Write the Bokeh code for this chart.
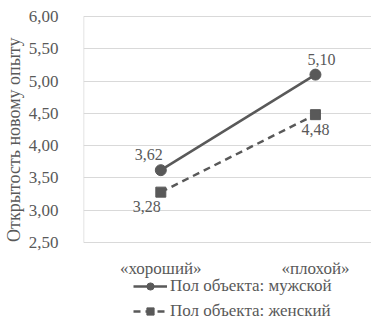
from bokeh.plotting import figure
from bokeh.models import FixedTicker, Legend, LegendItem, ColumnDataSource, LabelSet, Range1d, CustomJSTickFormatter
from bokeh.embed import file_html
from bokeh.resources import INLINE

categories = ["«хороший»", "«плохой»"]
male = [3.62, 5.10]
female = [3.28, 4.48]
male_labels = ["3,62", "5,10"]
female_labels = ["3,28", "4,48"]
y_ticks = [2.5, 3.0, 3.5, 4.0, 4.5, 5.0, 5.5, 6.0]
series_names = ["Пол объекта: мужской", "Пол объекта: женский"]
y_title = "Открытость новому опыту"

FONT = "serif"
GREY = "#595959"
TXT = "#595959"
GRID = "#d9d9d9"

xs = list(range(len(categories)))

# layout plan (pixels): plot area spans y 16..242, legend/labels below inside the frame
W, H = 371, 319
TOP, AXIS_BOTTOM = 16, 242
k = (AXIS_BOTTOM - TOP) / (y_ticks[-1] - y_ticks[0])
y_lo = y_ticks[0] - (H - AXIS_BOTTOM) / k
y_hi = y_ticks[-1] + TOP / k
x_lo, x_hi = -0.5, 1.3625

p = figure(width=W, height=H, output_backend="svg", toolbar_location=None,
           x_range=Range1d(x_lo, x_hi), y_range=Range1d(y_lo, y_hi),
           min_border_left=73, min_border_right=0, min_border_top=0, min_border_bottom=0)
p.outline_line_color = None
p.background_fill_color = "white"
p.xaxis.visible = False

p.yaxis.ticker = FixedTicker(ticks=y_ticks)
p.yaxis.formatter = CustomJSTickFormatter(code="return tick.toFixed(2).replace('.', ',');")
p.yaxis.axis_line_color = None
p.yaxis.major_tick_line_color = None
p.yaxis.minor_tick_line_color = None
p.yaxis.major_label_standoff = 19
p.yaxis.major_label_text_font = FONT
p.yaxis.major_label_text_font_size = "17px"
p.yaxis.major_label_text_color = TXT
p.yaxis.axis_label = "\u00a0" * 9 + y_title
p.yaxis.axis_label_text_font = FONT
p.yaxis.axis_label_text_font_style = "normal"
p.yaxis.axis_label_text_font_size = "18px"
p.yaxis.axis_label_text_color = TXT
p.yaxis.axis_label_standoff = 2

p.xgrid.grid_line_color = None
p.ygrid.ticker = FixedTicker(ticks=y_ticks)
p.ygrid.grid_line_color = GRID
p.ygrid.grid_line_width = 1

# vertical axis line spanning the value axis only
p.segment(x0=[x_lo], y0=[y_ticks[0]], x1=[x_lo], y1=[y_ticks[-1]], line_color=GRID, line_width=1.5)

# category labels under the value axis
p.add_layout(LabelSet(x="x", y="y", text="t",
                      source=ColumnDataSource(dict(x=xs, y=[y_ticks[0]] * len(xs), t=categories)),
                      y_offset=-26, text_align="center", text_baseline="middle",
                      text_font=FONT, text_font_size="17px", text_color=TXT))

# series
l1 = p.line(xs, male, line_color=GREY, line_width=2.5)
m1 = p.scatter(xs, male, marker="circle", size=11, fill_color=GREY, line_color=GREY)
l2 = p.line(xs, female, line_color=GREY, line_width=2.5, line_dash="7 5")
m2 = p.scatter(xs, female, marker="square", size=10, fill_color=GREY, line_color=GREY)

src_m = ColumnDataSource(dict(x=xs, y=male, t=male_labels, dx=[-12, 6]))
src_f = ColumnDataSource(dict(x=xs, y=female, t=female_labels, dx=[-14, 0]))
p.add_layout(LabelSet(x="x", y="y", text="t", source=src_m, x_offset="dx", y_offset=10,
                      text_align="center", text_baseline="bottom", text_font=FONT,
                      text_font_size="16px", text_color=TXT))
p.add_layout(LabelSet(x="x", y="y", text="t", source=src_f, x_offset="dx", y_offset=-9,
                      text_align="center", text_baseline="top", text_font=FONT,
                      text_font_size="16px", text_color=TXT))

legend = Legend(items=[LegendItem(label=series_names[0], renderers=[l1, m1]),
                       LegendItem(label=series_names[1], renderers=[l2, m2])],
                orientation="vertical", location=(50, -2),
                glyph_width=34, glyph_height=18, label_height=18, spacing=5,
                label_standoff=3, padding=0, margin=0,
                border_line_color=None, background_fill_alpha=0,
                label_text_font=FONT, label_text_font_size="17px", label_text_color=TXT)
p.add_layout(legend, "center")

open("out.html", "w").write(file_html(p, INLINE))
